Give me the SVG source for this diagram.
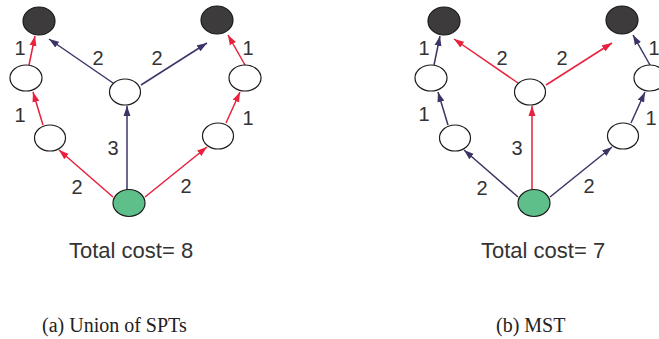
<svg xmlns="http://www.w3.org/2000/svg" width="659" height="339" viewBox="0 0 659 339">
  <style>
    .dark { fill: #3d3b3c; stroke: #1a1a1a; stroke-width: 1.2; }
    .white { fill: #ffffff; stroke: #1a1a1a; stroke-width: 1.2; }
    .src { fill: #5fbf8b; stroke: #1a1a1a; stroke-width: 1.2; }
    .red { stroke: #e8213c; stroke-width: 1.5; fill: none; marker-end: url(#ahRed); }
    .navy { stroke: #3b3566; stroke-width: 1.5; fill: none; marker-end: url(#ahNavy); }
    .w { font-family: "Liberation Sans", Arial, sans-serif; font-size: 20px; fill: #333333; text-anchor: middle; }
    .total { font-family: "Liberation Sans", Arial, sans-serif; font-size: 22px; fill: #333333; }
    .cap { font-family: "Liberation Serif", "Times New Roman", serif; font-size: 20px; fill: #222222; }
  </style>
  <defs>
    <marker id="ahRed" markerUnits="userSpaceOnUse" markerWidth="11" markerHeight="8" refX="10" refY="4" orient="auto">
      <path d="M0,0.5 L10,4 L0,7.5 z" fill="#e8213c"/>
    </marker>
    <marker id="ahNavy" markerUnits="userSpaceOnUse" markerWidth="11" markerHeight="8" refX="10" refY="4" orient="auto">
      <path d="M0,0.5 L10,4 L0,7.5 z" fill="#3b3566"/>
    </marker>
  </defs>

  <!-- (a) union of shortest-path trees -->
  <g id="connectors-a">
    <line class="red" x1="113" y1="197" x2="59" y2="150"/>
    <line class="navy" x1="127" y1="190" x2="127" y2="106"/>
    <line class="red" x1="145" y1="197" x2="207" y2="147"/>
    <line class="red" x1="43" y1="125" x2="33" y2="92"/>
    <line class="red" x1="29" y1="65" x2="35" y2="36"/>
    <line class="navy" x1="113" y1="83" x2="49" y2="39"/>
    <line class="navy" x1="141" y1="85" x2="207" y2="43"/>
    <line class="red" x1="245" y1="65" x2="228" y2="35"/>
    <line class="red" x1="226" y1="123" x2="240" y2="92"/>
  </g>
  <g id="a-tl"><ellipse class="dark" cx="39" cy="21" rx="16" ry="14"/></g>
  <g id="a-tr"><ellipse class="dark" cx="217" cy="20" rx="16" ry="14"/></g>
  <g id="a-lm"><ellipse class="white" cx="26" cy="78" rx="16" ry="13"/></g>
  <g id="a-c"><ellipse class="white" cx="125" cy="92" rx="15.5" ry="13"/></g>
  <g id="a-rm"><ellipse class="white" cx="245" cy="78" rx="16" ry="13"/></g>
  <g id="a-ll"><ellipse class="white" cx="50" cy="138" rx="15.5" ry="13"/></g>
  <g id="a-lr"><ellipse class="white" cx="218" cy="136" rx="15.5" ry="13"/></g>
  <g id="a-src"><ellipse class="src" cx="129" cy="203" rx="16" ry="13.5"/></g>
  <g id="a-weights">
    <text class="w" x="20" y="55">1</text>
    <text class="w" x="98" y="65">2</text>
    <text class="w" x="157" y="65">2</text>
    <text class="w" x="248" y="55">1</text>
    <text class="w" x="20" y="122">1</text>
    <text class="w" x="248" y="125">1</text>
    <text class="w" x="113" y="155">3</text>
    <text class="w" x="77" y="194">2</text>
    <text class="w" x="186" y="193">2</text>
  </g>
  <text class="total" x="69" y="258">Total cost= 8</text>
  <text class="cap" x="42" y="332">(a)  Union of SPTs</text>

  <!-- (b) minimum spanning tree -->
  <g id="connectors-b">
    <line class="navy" x1="518" y1="197" x2="464" y2="150"/>
    <line class="red" x1="532" y1="190" x2="532" y2="106"/>
    <line class="navy" x1="550" y1="197" x2="612" y2="147"/>
    <line class="navy" x1="448" y1="125" x2="438" y2="92"/>
    <line class="navy" x1="434" y1="65" x2="440" y2="36"/>
    <line class="red" x1="518" y1="83" x2="454" y2="39"/>
    <line class="red" x1="546" y1="85" x2="612" y2="43"/>
    <line class="navy" x1="650" y1="65" x2="633" y2="35"/>
    <line class="navy" x1="631" y1="123" x2="645" y2="92"/>
  </g>
  <g id="b-tl"><ellipse class="dark" cx="444" cy="21" rx="16" ry="14"/></g>
  <g id="b-tr"><ellipse class="dark" cx="622" cy="20" rx="16" ry="14"/></g>
  <g id="b-lm"><ellipse class="white" cx="431" cy="78" rx="16" ry="13"/></g>
  <g id="b-c"><ellipse class="white" cx="530" cy="92" rx="15.5" ry="13"/></g>
  <g id="b-rm"><ellipse class="white" cx="650" cy="78" rx="16" ry="13"/></g>
  <g id="b-ll"><ellipse class="white" cx="455" cy="138" rx="15.5" ry="13"/></g>
  <g id="b-lr"><ellipse class="white" cx="623" cy="136" rx="15.5" ry="13"/></g>
  <g id="b-src"><ellipse class="src" cx="534" cy="203" rx="16" ry="13.5"/></g>
  <g id="b-weights">
    <text class="w" x="424" y="55">1</text>
    <text class="w" x="502" y="65">2</text>
    <text class="w" x="562" y="65">2</text>
    <text class="w" x="654" y="55">1</text>
    <text class="w" x="424" y="121">1</text>
    <text class="w" x="651" y="125">1</text>
    <text class="w" x="517" y="155">3</text>
    <text class="w" x="482" y="195">2</text>
    <text class="w" x="589" y="193">2</text>
  </g>
  <text class="total" x="481" y="258">Total cost= 7</text>
  <text class="cap" x="496" y="332">(b) MST</text>
</svg>
